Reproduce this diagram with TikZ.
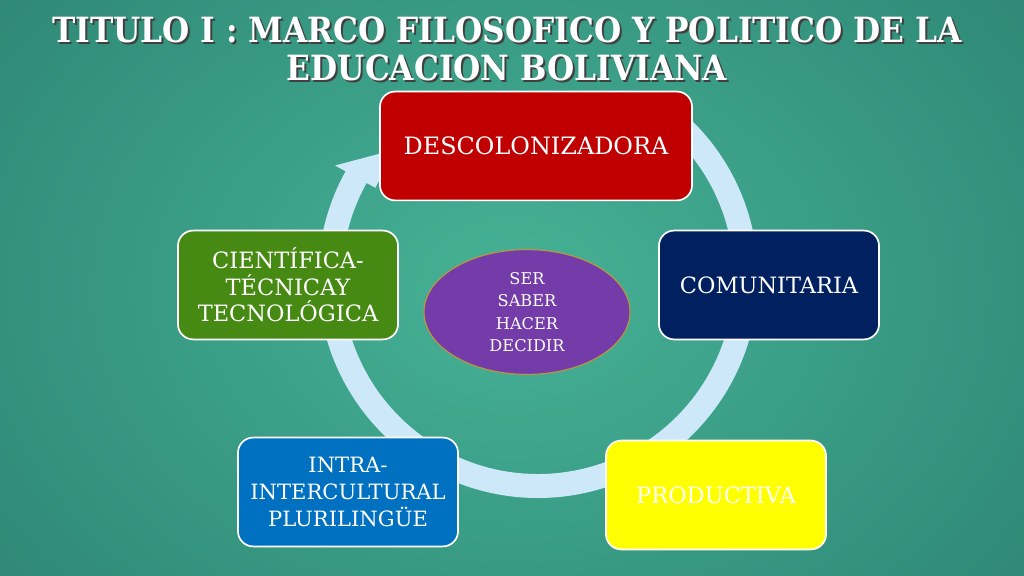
\documentclass[tikz,border=0pt]{standalone}
\usepackage{fontspec}
\setmainfont{DejaVu Serif}
\newfontfamily\titlefont{DejaVu Serif Condensed}
\usetikzlibrary{shapes.geometric, positioning, calc}
\definecolor{bgLight}{RGB}{70,178,150}
\definecolor{bgDark}{RGB}{44,132,114}
\definecolor{ringBlue}{RGB}{205,232,248}
\definecolor{descRed}{RGB}{192,0,0}
\definecolor{comNavy}{RGB}{0,32,96}
\definecolor{prodYellow}{RGB}{255,255,0}
\definecolor{intraBlue}{RGB}{0,112,192}
\definecolor{cienGreen}{RGB}{70,138,20}
\definecolor{corePurple}{RGB}{116,60,168}
\definecolor{coreEdge}{RGB}{190,150,60}

\begin{document}
\begin{tikzpicture}[
    x=0.025cm, y=0.025cm,
    box/.style={rectangle, rounded corners=0.38cm, draw=white, line width=1.2pt, text=white, minimum width=5.5cm, minimum height=2.72cm, align=center, font=\fontsize{16}{19}\selectfont},
    core/.style={ellipse, draw=coreEdge, line width=0.8pt, fill=corePurple, text=white, minimum width=5.15cm, minimum height=3.12cm, inner sep=0pt, align=center, font=\fontsize{11.5}{16}\selectfont},
    heading/.style={align=center, font=\titlefont\bfseries\fontsize{24.7}{27.5}\selectfont}
]
    \useasboundingbox (0,0) rectangle (1024,576);
    \shade[inner color=bgLight, outer color=bgDark] (-200,-250) rectangle (1224,826);

    % title
    \node[heading, text=black!75] (titleshadow) at (509,525) {TITULO I : MARCO FILOSOFICO Y POLITICO DE LA\\EDUCACION BOLIVIANA};
    \node[heading, text=white] (title) at (507,527) {TITULO I : MARCO FILOSOFICO Y POLITICO DE LA\\EDUCACION BOLIVIANA};

    % circular arrow
    \coordinate (hub) at (538,298);
    \fill[ringBlue] ([shift={(55:220)}]hub) arc[start angle=55, end angle=-209, radius=220]
        -- ([shift={(-209:232)}]hub) -- ([shift={(-222:192)}]hub) -- ([shift={(-209:186)}]hub)
        -- ([shift={(-209:196)}]hub) arc[start angle=-209, end angle=55, radius=196] -- cycle;

    % the five principles
    \node[box, fill=descRed, minimum width=7.8cm, font=\fontsize{17}{19}\selectfont] (desc) at (536,430) {DESCOLONIZADORA};
    \node[box, fill=comNavy] (com) at (769,291) {COMUNITARIA};
    \node[box, fill=prodYellow] (prod) at (716,81) {PRODUCTIVA};
    \node[box, fill=intraBlue, font=\fontsize{15}{19}\selectfont] (intra) at (348,84) {INTRA-\\INTERCULTURAL\\PLURILINGÜE};
    \node[box, fill=cienGreen] (cien) at (288,291) {CIENTÍFICA-\\TÉCNICAY\\TECNOLÓGICA};

    \node[core] (core) at (527,264) {SER\\SABER\\HACER\\DECIDIR};
\end{tikzpicture}
\end{document}
